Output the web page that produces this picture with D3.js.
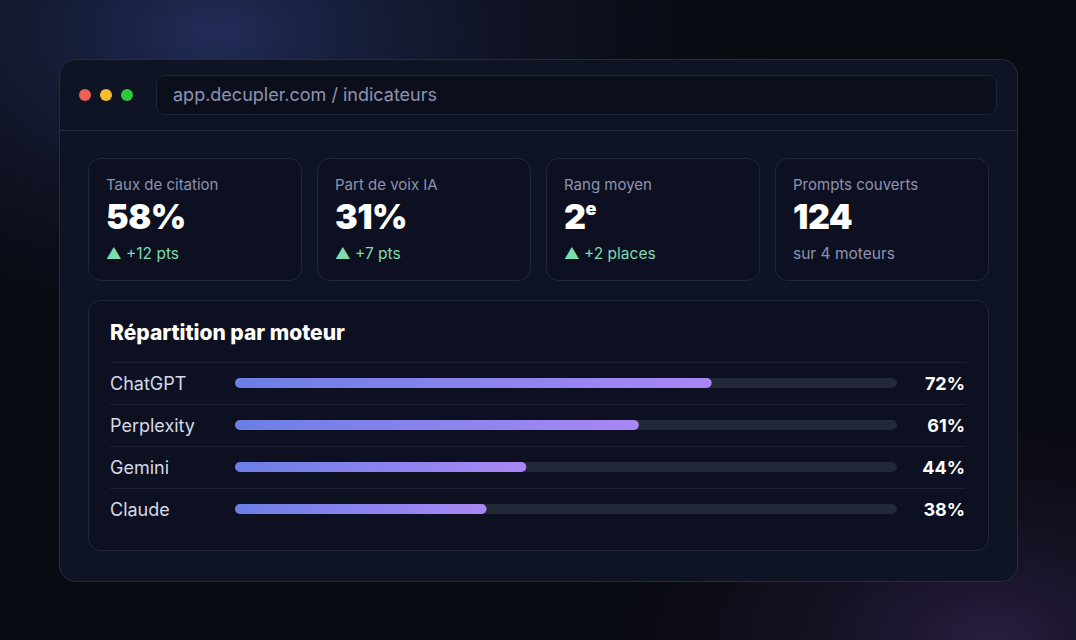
<!DOCTYPE html>
<html><head><meta charset="utf-8">
<script src="https://cdn.jsdelivr.net/npm/d3@7"></script>
<style>body{margin:0;background:#090b12;}svg{display:block;font-family:Inter,"Noto Sans",sans-serif;}</style>
</head><body>
<svg id="chart" width="1076" height="640"></svg>
<script>
// data
const engines = ["ChatGPT", "Perplexity", "Gemini", "Claude"];
const shares = [72, 61, 44, 38];
const kpiLabels = ["Taux de citation", "Part de voix IA", "Rang moyen", "Prompts couverts"];
const kpiValues = ["58%", "31%", "2", "124"];
const kpiNotes = ["▲ +12 pts", "▲ +7 pts", "▲ +2 places", "sur 4 moteurs"];
const kpiUp = [true, true, true, false];

const svg = d3.select("#chart");
const defs = svg.append("defs");

// background glows
const g1 = defs.append("radialGradient").attr("id", "glow1").attr("cx", 0.2).attr("cy", 0.05).attr("r", 0.55);
g1.append("stop").attr("offset", 0).attr("stop-color", "#222c58");
g1.append("stop").attr("offset", 1).attr("stop-color", "#090b12").attr("stop-opacity", 0);
const g2 = defs.append("radialGradient").attr("id", "glow2").attr("cx", 0.92).attr("cy", 1).attr("r", 0.4);
g2.append("stop").attr("offset", 0).attr("stop-color", "#2a1d42");
g2.append("stop").attr("offset", 1).attr("stop-color", "#090b12").attr("stop-opacity", 0);
const barGrad = defs.append("linearGradient").attr("id", "barGrad");
barGrad.append("stop").attr("offset", 0).attr("stop-color", "#6b7fe6");
barGrad.append("stop").attr("offset", 1).attr("stop-color", "#a987f5");

svg.append("rect").attr("width", 1076).attr("height", 640).attr("fill", "#090b12");
svg.append("rect").attr("width", 1076).attr("height", 640).attr("fill", "url(#glow1)");
svg.append("rect").attr("width", 1076).attr("height", 640).attr("fill", "url(#glow2)");

// window
svg.append("rect").attr("x", 59.5).attr("y", 59.5).attr("width", 958).attr("height", 522).attr("rx", 16)
  .attr("fill", "#0f1424").attr("stroke", "#262c40");
svg.append("line").attr("x1", 60).attr("x2", 1017).attr("y1", 130.5).attr("y2", 130.5).attr("stroke", "#262c40");
[["#ed5f57", 85], ["#f5bd2f", 106], ["#2bc840", 127]].forEach(d => {
  svg.append("circle").attr("cx", d[1]).attr("cy", 95).attr("r", 6).attr("fill", d[0]);
});
svg.append("rect").attr("x", 156.5).attr("y", 75.5).attr("width", 840).attr("height", 39).attr("rx", 8)
  .attr("fill", "#0b0f1c").attr("stroke", "#1f2538");
svg.append("text").attr("x", 173).attr("y", 101).attr("fill", "#8d93b0").attr("font-size", 18).text("app.decupler.com / indicateurs");

// KPI cards
const cardX = d3.scaleBand().domain(d3.range(4)).range([88, 988]).paddingInner(0.07);
const cards = svg.selectAll("g.card").data(kpiLabels).join("g").attr("class", "card")
  .attr("transform", (d, i) => `translate(${cardX(i)},158)`);
cards.append("rect").attr("x", 0.5).attr("y", 0.5).attr("width", cardX.bandwidth()).attr("height", 122).attr("rx", 12)
  .attr("fill", "#0c1020").attr("stroke", "#222839");
cards.append("text").attr("x", 18).attr("y", 32).attr("fill", "#8d93b0").attr("font-size", 15).text(d => d);
const big = cards.append("text").attr("x", 18).attr("y", 71).attr("fill", "#ffffff").attr("font-size", 34)
  .attr("font-weight", 900).attr("letter-spacing", -0.5).text((d, i) => kpiValues[i]);
big.filter((d, i) => i === 2).append("tspan").attr("font-size", 18).attr("dy", -14).text("e");
cards.append("text").attr("x", 18).attr("y", 101).attr("font-size", 15.5)
  .attr("fill", (d, i) => kpiUp[i] ? "#7fdcae" : "#8d93b0").text((d, i) => kpiNotes[i]);

// breakdown panel
svg.append("rect").attr("x", 88.5).attr("y", 300.5).attr("width", 900).attr("height", 250).attr("rx", 12)
  .attr("fill", "#0c1020").attr("stroke", "#222839");
svg.append("text").attr("x", 110).attr("y", 340).attr("fill", "#fff").attr("font-size", 21).attr("font-weight", 800)
  .text("Répartition par moteur");

const y = d3.scaleBand().domain(engines).range([362, 530]);
const x = d3.scaleLinear().domain([0, 100]).range([235, 897]);
const rows = svg.selectAll("g.row").data(engines).join("g").attr("class", "row")
  .attr("transform", d => `translate(0,${y(d)})`);
rows.append("line").attr("x1", 110).attr("x2", 966).attr("y1", 0.5).attr("y2", 0.5).attr("stroke", "#1c2132");
rows.append("text").attr("x", 110).attr("y", 28).attr("fill", "#d6d9e6").attr("font-size", 18).text(d => d);
rows.append("rect").attr("x", x(0)).attr("y", 16).attr("width", x(100) - x(0)).attr("height", 10).attr("rx", 5)
  .attr("fill", "#232838");
rows.append("rect").attr("x", x(0)).attr("y", 16).attr("width", (d, i) => x(shares[i]) - x(0)).attr("height", 10).attr("rx", 5)
  .attr("fill", "url(#barGrad)");
rows.append("text").attr("x", 965).attr("y", 28).attr("text-anchor", "end").attr("fill", "#fff").attr("font-size", 18)
  .attr("font-weight", 700).text((d, i) => shares[i] + "%");
</script>
</body></html>
